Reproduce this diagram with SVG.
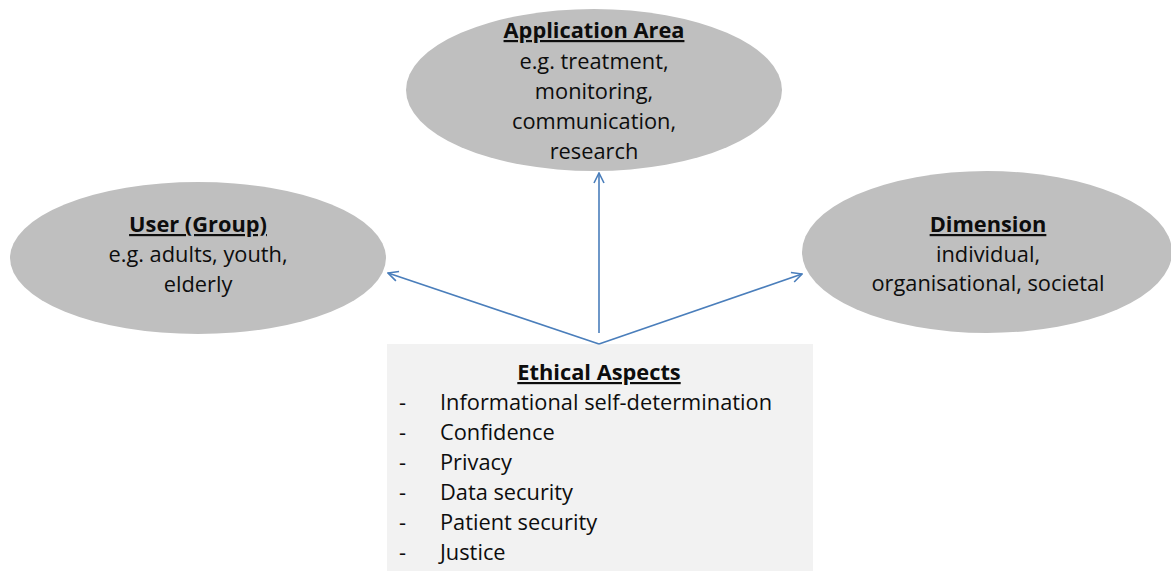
<svg xmlns="http://www.w3.org/2000/svg" width="1171" height="571" viewBox="0 0 1171 571">
<defs>
<style>
.ell{fill:#bfbfbf;}
.t{font-family:"Open Sans","Liberation Sans",Arial,sans-serif;font-size:21.8px;fill:#0d0d0d;text-anchor:middle;}
.h{font-weight:bold;text-decoration:underline;}
.l{text-anchor:start;}
.c{stroke:#4a7ebb;stroke-width:1.6;fill:none;}
</style>
<marker id="arr" viewBox="0 0 12 12" refX="11" refY="6" markerWidth="12" markerHeight="12" markerUnits="userSpaceOnUse" orient="auto">
<path d="M1,1 L11,6 L1,11" fill="none" stroke="#4a7ebb" stroke-width="1.6"/>
</marker>
</defs>
<rect width="1171" height="571" fill="#ffffff"/>
<g id="app">
<ellipse class="ell" cx="594" cy="90" rx="188" ry="81"/>
<text class="t h" x="594" y="38">Application Area</text>
<text class="t" x="594" y="69">e.g. treatment,</text>
<text class="t" x="594" y="99">monitoring,</text>
<text class="t" x="594" y="129">communication,</text>
<text class="t" x="594" y="159">research</text>
</g>
<g id="user">
<ellipse class="ell" cx="198" cy="258" rx="188" ry="76"/>
<text class="t h" x="198" y="232">User (Group)</text>
<text class="t" x="198" y="262">e.g. adults, youth,</text>
<text class="t" x="198" y="292">elderly</text>
</g>
<g id="dim">
<ellipse class="ell" cx="987" cy="252" rx="185" ry="81"/>
<text class="t h" x="988" y="232">Dimension</text>
<text class="t" x="988" y="262">individual,</text>
<text class="t" x="988" y="291">organisational, societal</text>
</g>
<g id="ethics">
<rect x="387" y="344" width="426" height="227" fill="#f2f2f2"/>
<text class="t h" x="599" y="380">Ethical Aspects</text>
<text class="t l" x="399" y="410">-</text><text class="t l" x="440" y="410">Informational self-determination</text>
<text class="t l" x="399" y="440">-</text><text class="t l" x="440" y="440">Confidence</text>
<text class="t l" x="399" y="470">-</text><text class="t l" x="440" y="470">Privacy</text>
<text class="t l" x="399" y="500">-</text><text class="t l" x="440" y="500">Data security</text>
<text class="t l" x="399" y="530">-</text><text class="t l" x="440" y="530">Patient security</text>
<text class="t l" x="399" y="560">-</text><text class="t l" x="440" y="560">Justice</text>
</g>
<g id="connectors">
<line class="c" x1="599" y1="333" x2="599" y2="173" marker-end="url(#arr)"/>
<line class="c" x1="599" y1="344" x2="388" y2="273" marker-end="url(#arr)"/>
<line class="c" x1="599" y1="344" x2="802" y2="274" marker-end="url(#arr)"/>
</g>
</svg>
